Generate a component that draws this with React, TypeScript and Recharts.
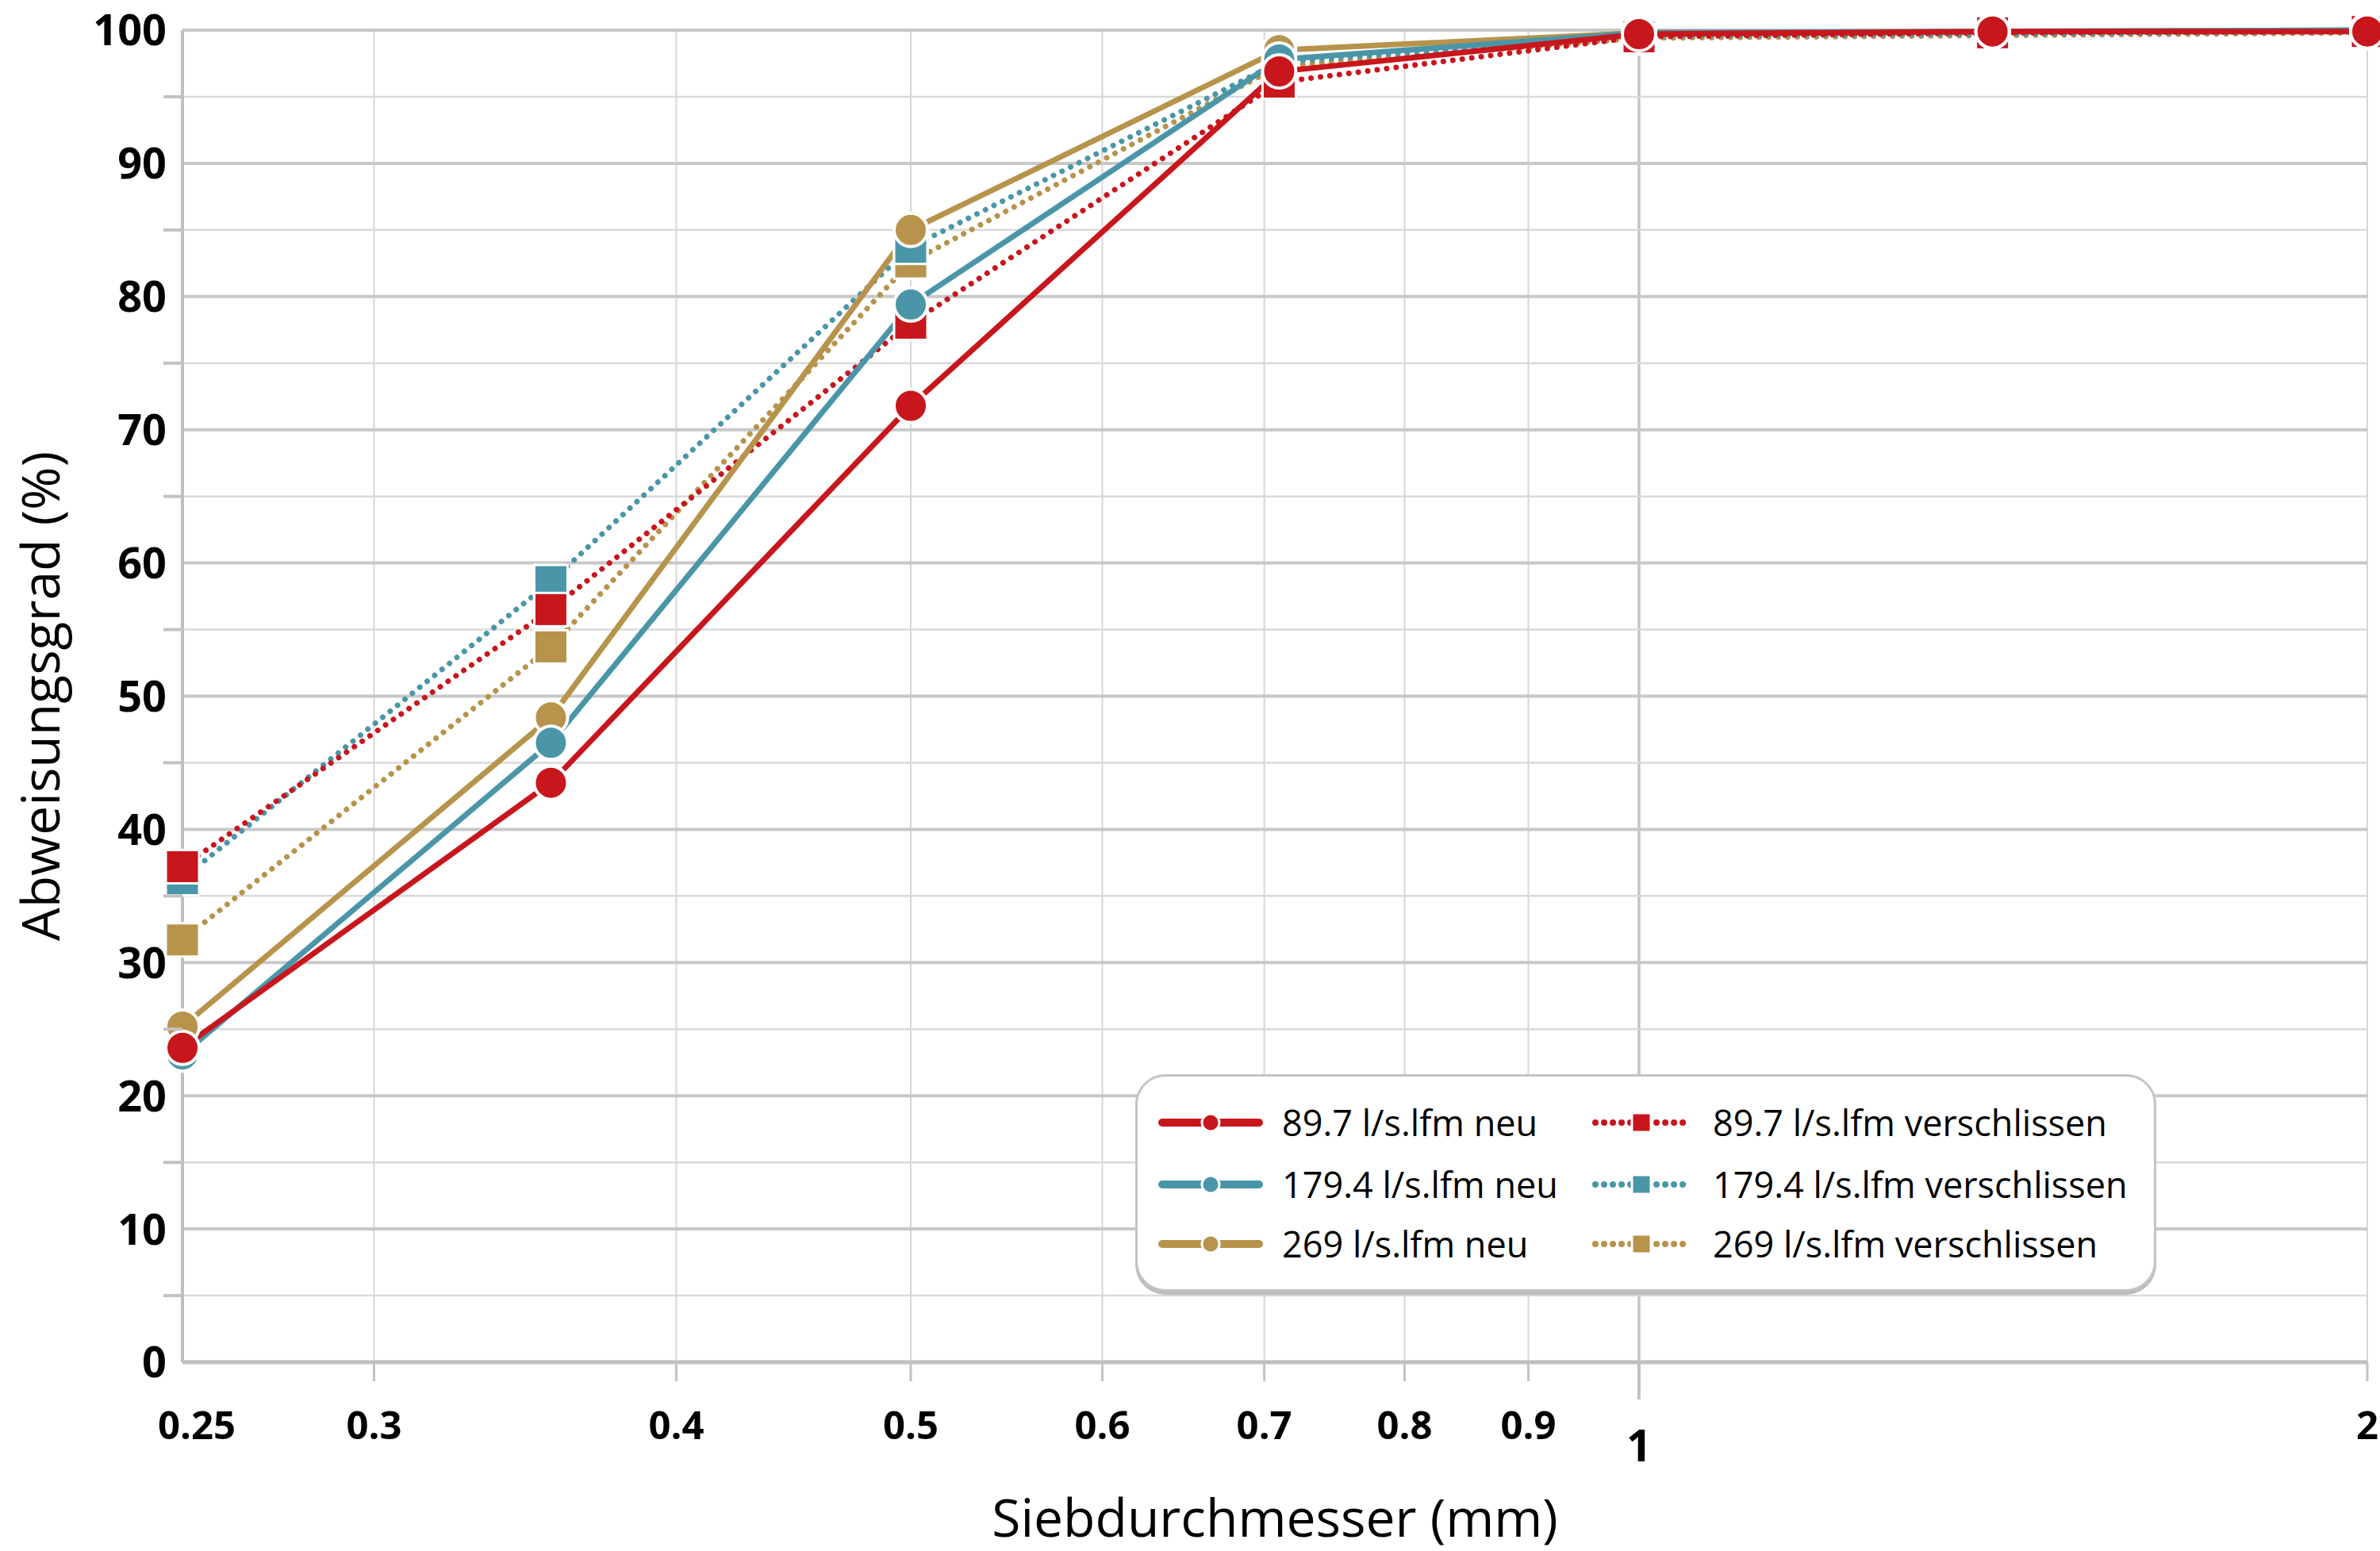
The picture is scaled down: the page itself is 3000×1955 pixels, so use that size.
import React from 'react';
import { LineChart, Line, XAxis, YAxis, CartesianGrid, Legend, Label } from 'recharts';

const sieveSizes = [0.25, 0.355, 0.5, 0.71, 1, 1.4, 2];
const neu897 = [23.6, 43.5, 71.8, 96.9, 99.7, 99.9, 99.9];
const neu1794 = [23.1, 46.5, 79.4, 97.8, 99.8, 99.9, 100];
const neu269 = [25.2, 48.4, 85.0, 98.5, 99.8, 99.9, 100];
const ver897 = [37.2, 56.5, 78.0, 96.1, 99.5, 99.8, 99.9];
const ver1794 = [36.3, 58.6, 83.7, 97.6, 99.6, 99.7, 99.9];
const ver269 = [31.7, 53.7, 82.6, 97.3, 99.4, 99.6, 99.8];

const xTicks = [0.25, 0.3, 0.4, 0.5, 0.6, 0.7, 0.8, 0.9, 1, 2];
const yTicks = [0, 5, 10, 15, 20, 25, 30, 35, 40, 45, 50, 55, 60, 65, 70, 75, 80, 85, 90, 95, 100];
const yMajorGrid = [10, 20, 30, 40, 50, 60, 70, 80, 90, 100];
const yMinorGrid = [5, 15, 25, 35, 45, 55, 65, 75, 85, 95];
const xMinorGrid = [0.3, 0.4, 0.5, 0.6, 0.7, 0.8, 0.9, 2];
const xMajorGrid = [1];

const RED = '#C8161D';
const TEAL = '#4A96A8';
const GOLD = '#B7934B';
const FONT = '"Open Sans", sans-serif';

const data = sieveSizes.map((x, i) => ({
  x,
  n897: neu897[i],
  n1794: neu1794[i],
  n269: neu269[i],
  v897: ver897[i],
  v1794: ver1794[i],
  v269: ver269[i],
}));

// drawing order: worn (dotted) first, then new (solid)
const series = [
  { key: 'v269', name: '269 l/s.lfm verschlissen', color: GOLD, dotted: true },
  { key: 'v1794', name: '179.4 l/s.lfm verschlissen', color: TEAL, dotted: true },
  { key: 'v897', name: '89.7 l/s.lfm verschlissen', color: RED, dotted: true },
  { key: 'n269', name: '269 l/s.lfm neu', color: GOLD, dotted: false },
  { key: 'n1794', name: '179.4 l/s.lfm neu', color: TEAL, dotted: false },
  { key: 'n897', name: '89.7 l/s.lfm neu', color: RED, dotted: false },
];

const legendRows = [
  [series[5], series[2]],
  [series[4], series[1]],
  [series[3], series[0]],
];

const makeDot = (color: string, square: boolean) => (props: any) => {
  const { cx, cy, index } = props;
  if (cx == null || cy == null) return <g key={index} />;
  if (square) {
    return (
      <rect key={index} x={cx - 21} y={cy - 21} width={42} height={42} fill={color} stroke="#fff" strokeWidth={3} />
    );
  }
  return <circle key={index} cx={cx} cy={cy} r={21} fill={color} stroke="#fff" strokeWidth={4} />;
};

const YTick = (props: any) => {
  const { x, y, payload } = props;
  const v = payload.value;
  if (v % 10 !== 0) {
    return <line x1={x - 24} x2={x} y1={y} y2={y} stroke="#c2c2c2" strokeWidth={4} />;
  }
  return (
    <text x={x - 20} y={y} dy="0.36em" textAnchor="end" fontFamily={FONT} fontWeight={700} fontSize={54} fill="#000">
      {v}
    </text>
  );
};

const XTick = (props: any) => {
  const { x, y, payload } = props;
  const v = payload.value;
  const isOne = v === 1;
  const isEdge = v === 0.25;
  return (
    <g>
      {!isEdge && (
        <line x1={x} x2={x} y1={y} y2={y + (isOne ? 47 : 24)} stroke="#c2c2c2" strokeWidth={isOne ? 4 : 3} />
      )}
      <text
        x={isEdge ? x + 18 : x}
        y={y + (isOne ? 125 : 97)}
        textAnchor="middle"
        fontFamily={FONT}
        fontWeight={700}
        fontSize={isOne ? 56 : 49}
        fill="#000"
      >
        {String(v)}
      </text>
    </g>
  );
};

const LegendIcon = ({ color, dotted }: { color: string; dotted: boolean }) => {
  if (!dotted) {
    return (
      <svg width={132} height={30} style={{ display: 'block' }}>
        <line x1={5} x2={127} y1={15} y2={15} stroke={color} strokeWidth={10} strokeLinecap="round" />
        <circle cx={66} cy={15} r={11} fill={color} stroke="#fff" strokeWidth={3} />
      </svg>
    );
  }
  return (
    <svg width={122} height={30} style={{ display: 'block' }}>
      <line x1={4} x2={118} y1={15} y2={15} stroke={color} strokeWidth={8} strokeLinecap="round" strokeDasharray="0.01 11" />
      <rect x={50} y={3} width={24} height={24} fill={color} stroke="#fff" strokeWidth={3} />
    </svg>
  );
};

const LegendBox = () => (
  <div
    style={{
      position: 'relative',
      width: 1287,
      height: 274,
      boxSizing: 'border-box',
      border: '3px solid #c4c4c4',
      borderRadius: 38,
      background: '#fff',
      boxShadow: '0 4px 0 #bdbdbd',
      fontFamily: FONT,
      fontSize: 45,
      color: '#000',
    }}
  >
    {legendRows.map((row, r) =>
      row.map((s, c) => (
        <div
          key={s.key}
          style={{
            position: 'absolute',
            left: c === 0 ? 26 : 573,
            top: [58, 136, 211][r] - 30,
            height: 60,
            display: 'flex',
            alignItems: 'center',
            whiteSpace: 'nowrap',
          }}
        >
          <LegendIcon color={s.color} dotted={s.dotted} />
          <span style={{ marginLeft: c === 0 ? 24 : 30, lineHeight: '60px' }}>{s.name}</span>
        </div>
      ))
    )}
  </div>
);

export default function App() {
  return (
    <div style={{ position: 'absolute', left: 0, top: 0, width: 3000, height: 1955, background: '#fff' }}>
      <LineChart
        width={3000}
        height={1955}
        data={data}
        margin={{ top: 38, right: 16, bottom: 0, left: 0 }}
        style={{ fontFamily: FONT }}
      >
        <CartesianGrid horizontal={false} stroke="#d6d6d6" strokeWidth={2} verticalValues={xMinorGrid} />
        <CartesianGrid horizontal={false} stroke="#c4c4c4" strokeWidth={3.5} verticalValues={xMajorGrid} />
        <CartesianGrid vertical={false} stroke="#dadada" strokeWidth={2.5} horizontalValues={yMinorGrid} />
        <CartesianGrid vertical={false} stroke="#c8c8c8" strokeWidth={4} horizontalValues={yMajorGrid} />
        <XAxis
          dataKey="x"
          type="number"
          scale="log"
          domain={[0.25, 2]}
          ticks={xTicks}
          interval={0}
          height={238}
          tickSize={0}
          tickMargin={0}
          tickLine={false}
          axisLine={{ stroke: '#bfbfbf', strokeWidth: 5 }}
          tick={<XTick />}
        >
          <Label
            content={(p: any) => {
              const vb = p.viewBox || {};
              return (
                <text x={vb.x + vb.width / 2} y={vb.y + 220} textAnchor="middle" fontFamily={FONT} fontSize={66} fill="#000">
                  Siebdurchmesser (mm)
                </text>
              );
            }}
          />
        </XAxis>
        <YAxis
          type="number"
          domain={[0, 100]}
          ticks={yTicks}
          interval={0}
          width={230}
          tickSize={0}
          tickMargin={0}
          tickLine={false}
          axisLine={{ stroke: '#bfbfbf', strokeWidth: 4 }}
          tick={<YTick />}
        >
          <Label
            content={(p: any) => {
              const vb = p.viewBox || {};
              const cy = vb.y + vb.height / 2;
              return (
                <text
                  x={52}
                  y={cy}
                  dy="0.35em"
                  transform={`rotate(-90 52 ${cy})`}
                  textAnchor="middle"
                  fontFamily={FONT}
                  fontSize={66}
                  fill="#000"
                >
                  Abweisungsgrad (%)
                </text>
              );
            }}
          />
        </YAxis>
        <Legend
          layout="horizontal"
          verticalAlign="middle"
          align="center"
          content={() => <LegendBox />}
          wrapperStyle={{ position: 'absolute', left: 1431, top: 1354, width: 1287, height: 274 }}
        />
        {series.map((s) => (
          <Line
            key={s.key}
            type="linear"
            dataKey={s.key}
            name={s.name}
            stroke={s.color}
            strokeWidth={7}
            strokeDasharray={s.dotted ? '0.01 12' : undefined}
            strokeLinecap="round"
            dot={makeDot(s.color, s.dotted)}
            activeDot={false}
            isAnimationActive={false}
          />
        ))}
      </LineChart>
    </div>
  );
}
